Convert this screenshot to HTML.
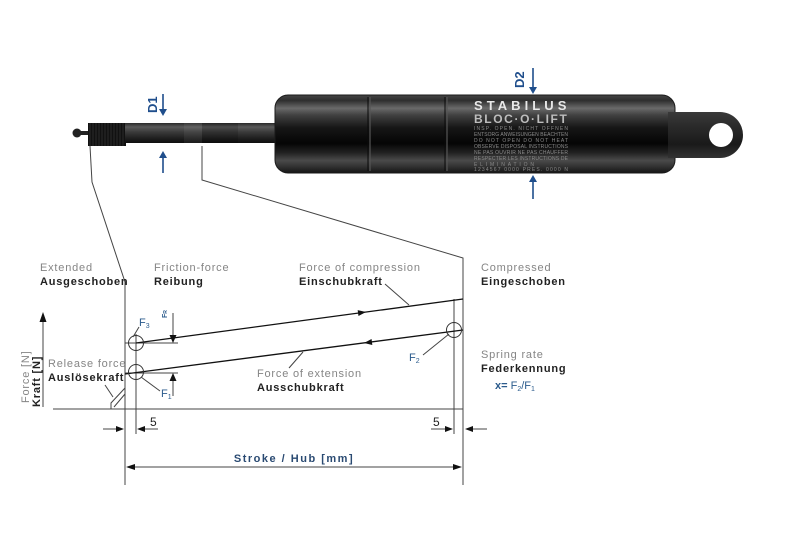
<!DOCTYPE html>
<html><head><meta charset="utf-8"><style>
html,body{margin:0;padding:0;background:#fff;}
svg{display:block;}
text{font-family:"Liberation Sans",sans-serif;}
.g{fill:#858585;font-size:11px;letter-spacing:0.8px;}
.b{fill:#222;font-size:11px;font-weight:bold;letter-spacing:0.8px;}
.bl{fill:#2b5b8c;font-size:11px;}
.ln{stroke:#444;stroke-width:1;fill:none;}
.th{stroke:#111;stroke-width:1.3;fill:none;}
</style></head><body>
<svg width="800" height="553" viewBox="0 0 800 553" xmlns="http://www.w3.org/2000/svg">
<defs>
<linearGradient id="body" x1="0" y1="0" x2="0" y2="1">
<stop offset="0" stop-color="#444"/>
<stop offset="0.07" stop-color="#2e2e2e"/>
<stop offset="0.17" stop-color="#6a6a6a"/>
<stop offset="0.26" stop-color="#404040"/>
<stop offset="0.42" stop-color="#161616"/>
<stop offset="0.62" stop-color="#050505"/>
<stop offset="0.74" stop-color="#222"/>
<stop offset="0.84" stop-color="#4a4a4a"/>
<stop offset="0.94" stop-color="#2a2a2a"/>
<stop offset="1" stop-color="#151515"/>
</linearGradient>
<linearGradient id="rod" x1="0" y1="0" x2="0" y2="1">
<stop offset="0" stop-color="#2a2a2a"/>
<stop offset="0.2" stop-color="#5a5a5a"/>
<stop offset="0.45" stop-color="#3a3a3a"/>
<stop offset="0.8" stop-color="#1c1c1c"/>
<stop offset="1" stop-color="#0e0e0e"/>
</linearGradient>
<linearGradient id="eye" x1="0" y1="0" x2="0" y2="1">
<stop offset="0" stop-color="#3a3a3a"/>
<stop offset="0.3" stop-color="#2b2b2b"/>
<stop offset="0.7" stop-color="#1a1a1a"/>
<stop offset="1" stop-color="#333"/>
</linearGradient>
</defs>

<!-- rod -->
<circle cx="77" cy="133" r="4.5" fill="#222"/>
<rect x="79" y="131" width="10" height="4" fill="#222"/>
<rect x="88" y="123" width="38" height="23" fill="#111"/>
<g stroke="#333" stroke-width="0.8">
<line x1="90" y1="123" x2="90" y2="146"/><line x1="93" y1="123" x2="93" y2="146"/><line x1="96" y1="123" x2="96" y2="146"/><line x1="99" y1="123" x2="99" y2="146"/><line x1="102" y1="123" x2="102" y2="146"/><line x1="105" y1="123" x2="105" y2="146"/><line x1="108" y1="123" x2="108" y2="146"/><line x1="111" y1="123" x2="111" y2="146"/><line x1="114" y1="123" x2="114" y2="146"/><line x1="117" y1="123" x2="117" y2="146"/><line x1="120" y1="123" x2="120" y2="146"/><line x1="123" y1="123" x2="123" y2="146"/>
</g>
<rect x="125" y="123" width="152" height="20" fill="url(#rod)"/>
<rect x="184" y="123" width="18" height="20" fill="#fff" opacity="0.06"/>
<rect x="202" y="123" width="36" height="20" fill="#000" opacity="0.15"/>

<!-- body -->
<rect x="275" y="95" width="400" height="78" rx="13" fill="url(#body)"/>
<rect x="275" y="95" width="400" height="78" rx="13" fill="none" stroke="#1a1a1a" stroke-width="1"/>
<g stroke="#555" stroke-width="1.2">
<line x1="370" y1="97" x2="370" y2="171"/><line x1="447" y1="97" x2="447" y2="171"/>
</g>
<g stroke="#0a0a0a" stroke-width="1">
<line x1="368" y1="97" x2="368" y2="171"/><line x1="445" y1="97" x2="445" y2="171"/>
</g>
<!-- eye -->
<path d="M668 112 L720 112 A23 23 0 0 1 720 158 L668 158 Z" fill="url(#eye)"/>
<circle cx="721" cy="135" r="12" fill="#fff"/>
<!-- body text -->
<text x="474" y="110" fill="#e8e8e8" font-size="13" font-weight="bold" letter-spacing="1.6" textLength="94">STABILUS</text>
<text x="474" y="123" fill="#bdbdbd" font-size="12" font-weight="bold" letter-spacing="1.2" textLength="94">BLOC·O·LIFT</text>
<g fill="#8a8a8a" font-size="5">
<text x="474" y="130" textLength="94">INSP. OPEN. NICHT OFFNEN</text>
<text x="474" y="136" textLength="94">ENTSORG ANWEISUNGEN BEACHTEN</text>
<text x="474" y="142" textLength="94">DO NOT OPEN DO NOT HEAT</text>
<text x="474" y="148" textLength="94">OBSERVE DISPOSAL INSTRUCTIONS</text>
<text x="474" y="154" textLength="94">NE PAS OUVRIR NE PAS CHAUFFER</text>
<text x="474" y="160" textLength="94">RESPECTER LES INSTRUCTIONS DE</text>
<text x="474" y="166" textLength="60">ELIMINATION</text>
<text x="474" y="171" textLength="94">1234567 0000 PRES. 0000 N</text>
</g>

<!-- D1 / D2 -->
<text transform="translate(157,113) rotate(-90)" font-size="13" font-weight="bold" fill="#1f4e8c">D1</text>
<text transform="translate(524,88) rotate(-90)" font-size="13" font-weight="bold" fill="#1f4e8c">D2</text>
<g stroke="#1f4e8c" stroke-width="1.6">
<line x1="163" y1="94" x2="163" y2="110"/>
<line x1="163" y1="156" x2="163" y2="173"/>
<line x1="533" y1="68" x2="533" y2="88"/>
<line x1="533" y1="180" x2="533" y2="199"/>
</g>
<g fill="#1f4e8c">
<path d="M159 109 L167 109 L163 116 Z"/>
<path d="M159 158 L167 158 L163 151 Z"/>
<path d="M529 87 L537 87 L533 94 Z"/>
<path d="M529 182 L537 182 L533 175 Z"/>
</g>

<!-- projection lines -->
<polyline class="ln" points="90,146 92,182 125,282 125,485"/>
<polyline class="ln" points="202,146 202,180 463,258 463,485"/>

<!-- chart lines -->
<line class="ln" x1="136" y1="334" x2="136" y2="434"/>
<line class="ln" x1="454" y1="299" x2="454" y2="434"/>
<line class="ln" x1="53" y1="409" x2="463" y2="409"/>
<line class="ln" x1="125" y1="343" x2="178" y2="343"/>
<line class="ln" x1="125" y1="373" x2="178" y2="373"/>
<line class="th" x1="136" y1="343" x2="463" y2="299"/>
<line class="th" x1="125" y1="374" x2="463" y2="330"/>
<path d="M0 0 L-8 -3 L-8 3 Z" fill="#111" transform="translate(366,312) rotate(-7.7)"/>
<path d="M0 0 L8 -3 L8 3 Z" fill="#111" transform="translate(364,343) rotate(-7.4)"/>
<g fill="none" stroke="#333" stroke-width="1">
<circle cx="136" cy="343" r="7.5"/>
<circle cx="136" cy="372" r="7.5"/>
<circle cx="454" cy="330" r="7.5"/>
</g>
<line class="ln" x1="173" y1="313" x2="173" y2="337"/>
<path d="M169.5 335 L176.5 335 L173 343 Z" fill="#111"/>
<line class="ln" x1="173" y1="396" x2="173" y2="380"/>
<path d="M169.5 381 L176.5 381 L173 373 Z" fill="#111"/>
<text transform="translate(167,318) rotate(-90)" fill="#2b5b8c" font-size="7" font-weight="bold">F<tspan font-size="5">R</tspan></text>

<!-- leaders -->
<line class="ln" x1="139" y1="327" x2="133" y2="337"/>
<line class="ln" x1="141" y1="377" x2="160" y2="391"/>
<line class="ln" x1="423" y1="355" x2="449" y2="334"/>
<line class="ln" x1="385" y1="284" x2="409" y2="305"/>
<line class="ln" x1="289" y1="368" x2="303" y2="352"/>
<line class="ln" x1="105" y1="385" x2="113" y2="397"/>
<polyline class="ln" points="111,409 111,403 125,388"/>
<line class="ln" x1="114" y1="407" x2="125" y2="394"/>

<!-- y axis -->
<line class="ln" x1="43" y1="407" x2="43" y2="320"/>
<path d="M39.5 322 L46.5 322 L43 312 Z" fill="#111"/>
<text class="g" transform="translate(29,403) rotate(-90)">Force [N]</text>
<text class="b" transform="translate(40,407) rotate(-90)">Kraft [N]</text>

<!-- dimension arrows -->
<line class="ln" x1="103" y1="429" x2="118" y2="429"/>
<path d="M124 429 L116 426 L116 432 Z" fill="#111"/>
<line class="ln" x1="158" y1="429" x2="143" y2="429"/>
<path d="M137 429 L145 426 L145 432 Z" fill="#111"/>
<line class="ln" x1="431" y1="429" x2="446" y2="429"/>
<path d="M453 429 L445 426 L445 432 Z" fill="#111"/>
<line class="ln" x1="487" y1="429" x2="472" y2="429"/>
<path d="M465 429 L473 426 L473 432 Z" fill="#111"/>
<text x="150" y="426" fill="#222" font-size="12">5</text>
<text x="433" y="426" fill="#222" font-size="12">5</text>
<line class="ln" x1="132" y1="467" x2="456" y2="467"/>
<path d="M126 467 L135 464 L135 470 Z" fill="#111"/>
<path d="M462 467 L453 464 L453 470 Z" fill="#111"/>
<text x="294" y="462" text-anchor="middle" fill="#2a4a72" font-size="11" font-weight="bold" letter-spacing="1.5">Stroke / Hub [mm]</text>

<!-- labels -->
<text class="g" x="40" y="271">Extended</text>
<text class="b" x="40" y="285">Ausgeschoben</text>
<text class="g" x="154" y="271">Friction-force</text>
<text class="b" x="154" y="285">Reibung</text>
<text class="g" x="299" y="271">Force of compression</text>
<text class="b" x="299" y="285">Einschubkraft</text>
<text class="g" x="481" y="271">Compressed</text>
<text class="b" x="481" y="285">Eingeschoben</text>
<text class="g" x="48" y="367">Release force</text>
<text class="b" x="48" y="381">Auslösekraft</text>
<text class="g" x="257" y="377">Force of extension</text>
<text class="b" x="257" y="391">Ausschubkraft</text>
<text class="g" x="481" y="358">Spring rate</text>
<text class="b" x="481" y="372">Federkennung</text>
<text class="bl" x="495" y="389" font-weight="bold">x= <tspan font-weight="normal">F<tspan font-size="7" dy="2">2</tspan><tspan dy="-2">/F</tspan><tspan font-size="7" dy="2">1</tspan></tspan></text>
<text class="bl" x="139" y="326">F<tspan font-size="7" dy="2">3</tspan></text>
<text class="bl" x="161" y="397">F<tspan font-size="7" dy="2">1</tspan></text>
<text class="bl" x="409" y="361">F<tspan font-size="7" dy="2">2</tspan></text>
</svg>
</body></html>
